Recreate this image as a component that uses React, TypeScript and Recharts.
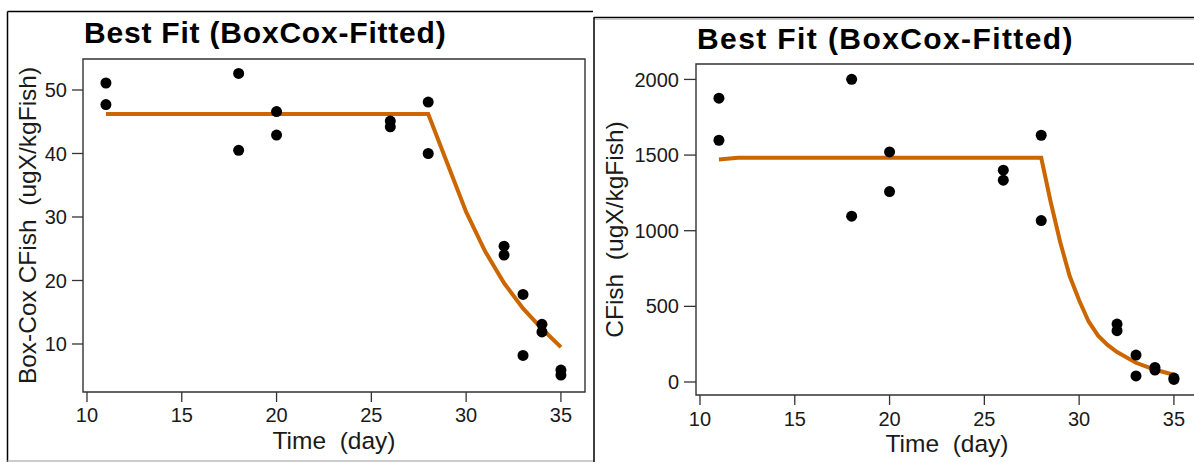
import React from 'react';
import { ComposedChart, Scatter, Line, XAxis, YAxis, ReferenceArea } from 'recharts';

const FONT = '"Liberation Sans", Arial, Helvetica, sans-serif';
const FIT_COLOR = '#CC6600';
const INK = '#1a1a1a';
const BOX = '#333333';

// Shared time axis
const DAY_TICKS = [10, 15, 20, 25, 30, 35];
const DAY_DOMAIN: [number, number] = [9.79, 36.27];

// Observed samples (two fish per sampling day)
const OBS_DAYS = [11, 11, 18, 18, 20, 20, 26, 26, 28, 28, 32, 32, 33, 33, 34, 34, 35, 35];
const OBS_BOXCOX = [51.1, 47.7, 52.6, 40.5, 46.6, 42.9, 45.1, 44.2, 48.1, 40.0, 25.4, 24.0, 17.8, 8.2, 13.1, 11.9, 5.9, 5.1];
const OBS_CFISH = [1876, 1598, 2001, 1096, 1521, 1259, 1400, 1334, 1631, 1067, 383, 339, 178, 40, 96, 79, 26, 17];

// Fitted curve, Box-Cox scale
const FIT_BOXCOX_DAYS = [11, 28, 29, 30, 31, 32, 33, 34, 35];
const FIT_BOXCOX = [46.2, 46.2, 38.5, 30.8, 24.6, 19.6, 15.6, 12.4, 9.5];

// Fitted curve, back-transformed to concentration
const FIT_CFISH_DAYS = [11, 12, 28, 28.5, 29, 29.5, 30, 30.5, 31, 31.5, 32, 33, 34, 35];
const FIT_CFISH = [1470, 1482, 1482, 1190, 925, 700, 540, 400, 306, 245, 198, 127, 81, 48];

// Y axes
const BOXCOX_TICKS = [10, 20, 30, 40, 50];
const BOXCOX_DOMAIN: [number, number] = [2.44, 54.88];
const CFISH_TICKS = [0, 500, 1000, 1500, 2000];
const CFISH_DOMAIN: [number, number] = [-86, 2102];

const TITLE = 'Best Fit (BoxCox-Fitted)';

const zip = (xs: number[], ys: number[]) => xs.map((day, i) => ({ day, v: ys[i] }));

const Dot = (p: any) => <circle cx={p.cx} cy={p.cy} r={5.5} fill="#000" />;

const xTitle = (text: string, gap: number) => (props: any) => {
  const vb = props.viewBox || {};
  return (
    <text
      x={vb.x + vb.width / 2}
      y={vb.y + gap}
      textAnchor="middle"
      fontFamily={FONT}
      fontSize={24.5}
      fill={INK}
      style={{ whiteSpace: 'pre' }}
    >
      {text}
    </text>
  );
};

const yTitle = (text: string, gap: number) => (props: any) => {
  const vb = props.viewBox || {};
  const cx = vb.x + vb.width - gap;
  const cy = vb.y + vb.height / 2;
  return (
    <text
      x={cx}
      y={cy}
      transform={`rotate(-90, ${cx}, ${cy})`}
      textAnchor="middle"
      fontFamily={FONT}
      fontSize={24.5}
      fill={INK}
      style={{ whiteSpace: 'pre' }}
    >
      {text}
    </text>
  );
};

type PanelProps = {
  width: number;
  margin: { top: number; right: number; bottom: number; left: number };
  yWidth: number;
  yDomain: [number, number];
  yTicks: number[];
  yLabel: string;
  yLabelGap: number;
  xLabelGap: number;
  xTickMargin: number;
  yTickSize: number;
  observed: { day: number; v: number }[];
  fit: { day: number; v: number }[];
};

function Panel(p: PanelProps) {
  return (
    <ComposedChart width={p.width} height={462} margin={p.margin}>
      <XAxis
        dataKey="day"
        type="number"
        domain={DAY_DOMAIN}
        ticks={DAY_TICKS}
        allowDataOverflow
        axisLine={false}
        tickLine={{ stroke: BOX, strokeWidth: 1.3 }}
        tickSize={10}
        tickMargin={p.xTickMargin}
        tick={{ fill: INK, fontSize: 20, fontFamily: FONT }}
        height={60}
        label={{ content: xTitle('Time \u00A0(day)', p.xLabelGap) } as any}
      />
      <YAxis
        type="number"
        domain={p.yDomain}
        ticks={p.yTicks}
        allowDataOverflow
        axisLine={false}
        tickLine={{ stroke: BOX, strokeWidth: 1.3 }}
        tickSize={p.yTickSize}
        tickMargin={5}
        tick={{ fill: INK, fontSize: 20, fontFamily: FONT }}
        width={p.yWidth}
        label={{ content: yTitle(p.yLabel, p.yLabelGap) } as any}
      />
      <ReferenceArea
        x1={DAY_DOMAIN[0]}
        x2={DAY_DOMAIN[1]}
        y1={p.yDomain[0]}
        y2={p.yDomain[1]}
        fill="none"
        fillOpacity={0}
        stroke={BOX}
        strokeWidth={1.4}
      />
      <Line
        data={p.fit}
        dataKey="v"
        type="linear"
        stroke={FIT_COLOR}
        strokeWidth={4}
        dot={false}
        activeDot={false}
        isAnimationActive={false}
      />
      <Scatter data={p.observed} dataKey="v" shape={Dot} isAnimationActive={false} />
    </ComposedChart>
  );
}

export default function App() {
  return (
    <div
      style={{
        position: 'absolute',
        left: 0,
        top: 0,
        width: 1194,
        height: 462,
        overflow: 'hidden',
        background: '#fff',
      }}
    >
      <div style={{ position: 'absolute', left: 0, top: 0 }}>
        <Panel
          width={594}
          margin={{ top: 59, right: 9, bottom: 10, left: 13 }}
          yWidth={70}
          yDomain={BOXCOX_DOMAIN}
          yTicks={BOXCOX_TICKS}
          yLabel={'Box-Cox CFish \u00A0(ugX/kgFish)'}
          yLabelGap={47}
          xLabelGap={57}
          xTickMargin={6}
          yTickSize={11}
          observed={zip(OBS_DAYS, OBS_BOXCOX)}
          fit={zip(FIT_BOXCOX_DAYS, FIT_BOXCOX)}
        />
      </div>
      <div style={{ position: 'absolute', left: 594, top: 0 }}>
        <Panel
          width={620}
          margin={{ top: 64, right: 16, bottom: 7, left: 22 }}
          yWidth={80}
          yDomain={CFISH_DOMAIN}
          yTicks={CFISH_TICKS}
          yLabel={'CFish \u00A0(ugX/kgFish)'}
          yLabelGap={73}
          xLabelGap={57}
          xTickMargin={7}
          yTickSize={12}
          observed={zip(OBS_DAYS, OBS_CFISH)}
          fit={zip(FIT_CFISH_DAYS, FIT_CFISH)}
        />
      </div>
      <svg
        width={1194}
        height={462}
        style={{ position: 'absolute', left: 0, top: 0, pointerEvents: 'none' }}
      >
        {/* left panel frame */}
        <line x1={7.5} y1={11.5} x2={593} y2={11.5} stroke="#000" strokeWidth={1.5} />
        <line x1={7.5} y1={11.5} x2={7.5} y2={462} stroke="#000" strokeWidth={1.5} />
        <line x1={7.5} y1={461} x2={593} y2={461} stroke="#bbb" strokeWidth={1.5} />
        {/* right panel frame */}
        <line x1={594} y1={17.5} x2={1194} y2={17.5} stroke="#000" strokeWidth={1.5} />
        <line x1={594} y1={19.5} x2={1194} y2={19.5} stroke="#ccc" strokeWidth={1} />
        <line x1={594} y1={17} x2={594} y2={462} stroke="#000" strokeWidth={1.5} />
        <text x={84} y={43} fontFamily={FONT} fontWeight="bold" fontSize={30} letterSpacing={0.8} fill="#000">
          {TITLE}
        </text>
        <text x={697} y={49} fontFamily={FONT} fontWeight="bold" fontSize={30} letterSpacing={1.4} fill="#000">
          {TITLE}
        </text>
      </svg>
    </div>
  );
}
